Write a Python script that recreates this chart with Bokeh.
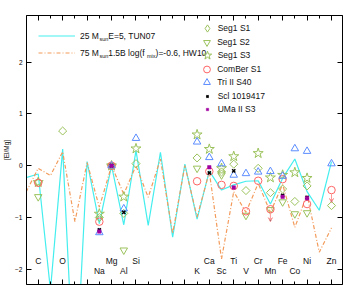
import numpy as np
from bokeh.plotting import figure
from bokeh.models import (Range1d, LinearAxis, FixedTicker, Legend, LegendItem,
                          Label, ColumnDataSource, Arrow, VeeHead)
from bokeh.core.properties import value
from bokeh.embed import file_html
from bokeh.resources import INLINE

ATOMIC_Z = {"B": 5, "C": 6, "N": 7, "O": 8, "F": 9, "Ne": 10, "Na": 11, "Mg": 12,
            "Al": 13, "Si": 14, "P": 15, "S": 16, "Cl": 17, "Ar": 18, "K": 19,
            "Ca": 20, "Sc": 21, "Ti": 22, "V": 23, "Cr": 24, "Mn": 25, "Fe": 26,
            "Co": 27, "Ni": 28, "Cu": 29, "Zn": 30}

# ---------------- model yields ----------------
model_elements = ["B", "C", "N", "O", "F", "Ne", "Na", "Mg", "Al", "Si", "P", "S", "Cl",
                  "Ar", "K", "Ca", "Sc", "Ti", "V", "Cr", "Mn", "Fe", "Co", "Ni", "Cu", "Zn"]
tun07_25msun = [-0.23, -0.16, -2.40, 0.32, -4.50, 0.08, -1.12, 0.00, -1.14, 0.29, -1.15, 0.26,
                -1.38, 0.03, -1.03, -0.10, -0.47, -0.37, -0.30, -0.29, -0.74, -0.24, 0.13,
                -0.50, -0.86, 0.08]
hw10_75msun = [-0.51, -0.05, -0.19, 0.27, -1.08, 0.06, -0.80, 0.00, -0.55, 0.00, -0.61, 0.13,
               -1.31, 0.00, -0.99, -0.12, -1.80, -0.50, -0.90, -0.34, -0.90, -0.36, -1.19,
               -0.56, -1.67, -1.20]

# ---------------- observed stars ----------------
seg1_s1_el = ["C", "O", "Na", "Mg", "Al", "Si", "K", "Sc", "Ti", "V", "Cr", "Mn", "Fe", "Co", "Ni", "Zn"]
seg1_s1_val = [-0.32, 0.67, -1.00, 0.00, -0.92, 0.04, 0.15, -0.12, 0.03, -0.48, -0.05, -0.52,
               -0.45, -0.69, -0.39, -0.77]
seg1_s2_el = ["C", "Mg", "Al", "K", "Sc", "V", "Mn", "Fe", "Co", "Ni"]
seg1_s2_val = [-0.60, 0.00, -1.63, -0.05, -0.18, -0.96, -0.85, -0.70, -0.93, -0.91]
seg1_s3_el = ["C", "Na", "Mg", "Al", "Si", "K", "Ca", "Sc", "Ti", "Cr", "Mn", "Fe", "Co", "Ni"]
seg1_s3_val = [-0.32, -0.93, 0.00, -0.60, 0.33, 0.60, 0.32, -0.05, 0.18, 0.24, -0.23, -0.18,
               -0.13, -0.24]
comber_el = ["C", "Na", "Mg", "K", "Ca", "Sc", "Ti", "V", "Cr", "Mn", "Fe", "Ni", "Zn"]
comber_val = [-0.33, -1.08, 0.00, -0.30, -0.11, -0.37, -0.39, -0.88, -0.29, -0.84, -0.26,
              -0.74, -0.47]
comber_upper = [False, False, False, False, False, False, False, False, False, True, False,
                False, True]
tri2_el = ["Na", "Mg", "Al", "Si", "K", "Ca", "Sc", "Ti", "V", "Cr", "Mn", "Fe", "Co", "Ni", "Zn"]
tri2_val = [-1.29, 0.00, -0.83, 0.53, 0.46, 0.16, 0.04, -0.18, -0.15, -0.12, -0.11, -0.20,
            0.33, 0.28, 0.04]
scl_el = ["Na", "Mg", "Al", "Ca", "Ti", "Fe", "Ni"]
scl_val = [-1.24, 0.00, -0.90, -0.14, -0.10, -0.57, -0.61]
uma2_el = ["Na", "Mg", "Ca", "Ti", "Fe", "Ni"]
uma2_val = [-1.27, 0.00, -0.03, -0.42, -0.60, -0.63]

# element labels
label_upper = ["C", "O", "Mg", "Si", "Ca", "Ti", "Cr", "Fe", "Ni", "Zn"]
label_lower = ["Na", "Al", "K", "Sc", "V", "Mn", "Co"]

y_ticks = [-2, -1, 0, 1, 2]

# ---------------- styling ----------------
FONT = "Liberation Sans"
GREEN = "#9bc25b"
RED = "#ff6464"
BLUE = "#5b8cff"
PURPLE = "#a000a0"
CYAN = "#44eeee"
ORANGE = "#f39b5b"

FRAME_L, FRAME_T, FRAME_W, FRAME_H = 23, 15, 316, 269
X0, X1 = 5.04, 30.9
Y0, Y1 = -2.293, 2.9
PX_PER_Y = FRAME_H / (Y1 - Y0)

def zs(els):
    return [ATOMIC_Z[e] for e in els]

p = figure(frame_width=FRAME_W, frame_height=FRAME_H,
           x_range=Range1d(X0, X1), y_range=Range1d(Y0, Y1),
           output_backend="svg", toolbar_location=None,
           x_axis_location=None, y_axis_location=None,
           min_border_left=FRAME_L, min_border_right=354 - FRAME_L - FRAME_W,
           min_border_top=FRAME_T, min_border_bottom=285 - FRAME_T - FRAME_H)
p.xgrid.visible = False
p.ygrid.visible = False
p.outline_line_color = None
p.background_fill_color = "white"
p.border_fill_color = "white"

def tick_axis(major, minor, tick_len, minor_len, labels):
    ax = LinearAxis(ticker=FixedTicker(ticks=major, minor_ticks=minor))
    ax.axis_line_color = "black"
    ax.axis_line_width = 1
    ax.major_tick_in = tick_len
    ax.major_tick_out = 0
    ax.minor_tick_in = minor_len
    ax.minor_tick_out = 0
    ax.major_tick_line_color = "black"
    ax.minor_tick_line_color = "black"
    ax.major_label_text_font = FONT
    ax.major_label_text_font_size = "6.5px"
    ax.major_label_text_color = "black"
    ax.major_label_standoff = 4 if labels else 0
    return ax

x_major = list(range(6, 31, 2))
x_minor = list(range(5, 32))
for place in ("below", "above"):
    p.add_layout(tick_axis([], x_major, 0, 5, False), place)
    p.add_layout(tick_axis([], x_minor, 0, 3, False), place)
yax = tick_axis(y_ticks, [], 5, 0, True)
yax.axis_label = "[El/Mg]"
yax.axis_label_text_font = FONT
yax.axis_label_text_font_size = "6.5px"
yax.axis_label_text_font_style = "normal"
yax.axis_label_text_color = "#111111"
yax.axis_label_standoff = 2
p.add_layout(yax, "left")
p.add_layout(tick_axis([], y_ticks, 0, 5, False), "right")

# model lines
r_tun = p.line(zs(model_elements), tun07_25msun, line_color=CYAN, line_width=1.2)
r_hw = p.line(zs(model_elements), hw10_75msun, line_color=ORANGE, line_width=1.2,
              line_dash="4 2 1 2")

# element labels
ROW_UP, ROW_LOW = -1.84, -2.03
p.text(x=zs(label_upper), y=[ROW_UP] * len(label_upper), text=label_upper,
       text_align="center", text_baseline="middle", text_font=value(FONT),
       text_font_size="8.5px", text_color="#111111")
p.text(x=zs(label_lower), y=[ROW_LOW] * len(label_lower), text=label_lower,
       text_align="center", text_baseline="middle", text_font=value(FONT),
       text_font_size="8.5px", text_color="#111111")

# upper-limit arrows (ComBer)
ul_z = [ATOMIC_Z[e] for e, u in zip(comber_el, comber_upper) if u]
ul_v = [v for v, u in zip(comber_val, comber_upper) if u]
arrow_src = ColumnDataSource(dict(x=ul_z, y0=[v - 0.07 for v in ul_v], y1=[v - 0.24 for v in ul_v]))
p.add_layout(Arrow(end=VeeHead(size=4, line_color="#ff9a9a", line_width=1),
                   x_start="x", y_start="y0", x_end="x", y_end="y1",
                   line_color="#ff9a9a", line_width=1, source=arrow_src))

# observation markers
r_s1 = p.scatter(zs(seg1_s1_el), seg1_s1_val, marker="square", angle=np.pi / 4, size=5.7,
                 fill_color=None, line_color=GREEN, line_width=1)
r_s2 = p.scatter(zs(seg1_s2_el), seg1_s2_val, marker="inverted_triangle", size=7.5,
                 fill_color=None, line_color=GREEN, line_width=1)
r_s3 = p.scatter(zs(seg1_s3_el), seg1_s3_val, marker="star", size=10.5,
                 fill_color=None, line_color=GREEN, line_width=1)
r_cb = p.scatter(zs(comber_el), comber_val, marker="circle", size=7.5,
                 fill_color=None, line_color=RED, line_width=1)
r_tr = p.scatter(zs(tri2_el), tri2_val, marker="triangle", size=7.5,
                 fill_color=None, line_color=BLUE, line_width=1)
r_sc = p.scatter(zs(scl_el), scl_val, marker="x", size=4.5,
                 line_color="black", line_width=1.5)
r_um = p.scatter(zs(uma2_el), uma2_val, marker="square", size=3.5,
                 fill_color=PURPLE, line_color=PURPLE, line_width=0.5)
# legend key for Seg1 S1: legend keys are never rotated, so an upright diamond
# version of the same series is kept hidden and used only as the legend key
r_s1_key = p.scatter(zs(seg1_s1_el), seg1_s1_val, marker="diamond", size=8,
                     fill_color=None, line_color=GREEN, line_width=1, visible=False)

# ---------------- legends ----------------
W = {'0': .556, '1': .556, '2': .556, '3': .556, '4': .556, '5': .556, '6': .556, '7': .556,
     '8': .556, '9': .556, ' ': .278, 'M': .833, 's': .5, 'u': .556, 'n': .556, 'E': .667,
     '=': .584, ',': .278, 'T': .611, 'U': .722, 'N': .722, '.': .278, 'B': .667, 'l': .222,
     'o': .556, 'g': .556, '(': .333, 'f': .278, 'm': .833, 'i': .222, 'x': .5, ')': .333,
     '-': .333, 'H': .722, 'W': .944}

def tw(s, fs):
    return sum(W.get(c, .556) for c in s) * fs

MAIN_FS, SUB_FS = 8.5, 5.5
line_labels = [
    [("25 M", False), ("sun", True), (" E=5, TUN07", False)],
    [("75 M", False), ("sun", True), (" 1.5B log(f", False), ("mix", True), (")=-0.6, HW10", False)],
]
LEG_MARGIN, LEG_ROW_H, LEG_GLYPH_W = 12, 17, 37
line_leg = Legend(items=[LegendItem(label=value(line_labels[0][0][0]), renderers=[r_tun]),
                         LegendItem(label=value(line_labels[1][0][0]), renderers=[r_hw])],
                  location="top_left", padding=0, margin=LEG_MARGIN, spacing=0,
                  glyph_width=LEG_GLYPH_W, glyph_height=LEG_ROW_H, label_height=LEG_ROW_H,
                  label_width=0, label_standoff=5, border_line_color=None,
                  background_fill_alpha=0, label_text_font=FONT,
                  label_text_font_size=f"{MAIN_FS}px", label_text_color="#111111")
p.add_layout(line_leg)

label_x0 = X0 + (LEG_MARGIN + LEG_GLYPH_W + 5) / 12.22
for i, parts in enumerate(line_labels):
    row_px = LEG_MARGIN + LEG_ROW_H * (i + 0.5)
    yy = Y1 - row_px / PX_PER_Y
    off = tw(parts[0][0], MAIN_FS)
    for txt, sub in parts[1:]:
        fs = SUB_FS if sub else MAIN_FS
        p.add_layout(Label(x=label_x0, y=yy, x_offset=off, y_offset=-3 if sub else 0,
                           text=txt, text_font=FONT, text_font_size=f"{fs}px",
                           text_baseline="middle", text_align="left", text_color="#111111"))
        off += tw(txt, fs)

# marker legend: one single-item legend per row (per-row glyph box)
legend_rows = [
    ("Seg1 S1", r_s1_key, 18, 28.3),
    ("Seg1 S2", r_s2, 17, 41.7),
    ("Seg1 S3", r_s3, 22, 55.0),
    ("ComBer S1", r_cb, 17, 69.0),
    ("Tri II S40", r_tr, 17, 82.3),
    ("Scl 1019417", r_sc, 8, 95.7),
    ("UMa II S3", r_um, 6, 109.0),
]
H = 26
KEY_X, TEXT_X, SHIFT = 232.7, 243.3, 29
for name, rend, w, row in legend_rows:
    leg = Legend(items=[LegendItem(label=value(name), renderers=[rend])],
                 location=(KEY_X - FRAME_L - w / 2 - SHIFT, (FRAME_T + FRAME_H) - row - H / 2),
                 padding=0, margin=0, spacing=0,
                 glyph_width=w, glyph_height=H, label_height=H, label_width=0,
                 label_standoff=max(0, int(round(TEXT_X - KEY_X - w / 2))),
                 border_line_color=None, background_fill_alpha=0,
                 label_text_font=FONT, label_text_font_size="8.5px",
                 label_text_color="#111111")
    p.add_layout(leg)

open("out.html", "w").write(file_html(p, INLINE))
